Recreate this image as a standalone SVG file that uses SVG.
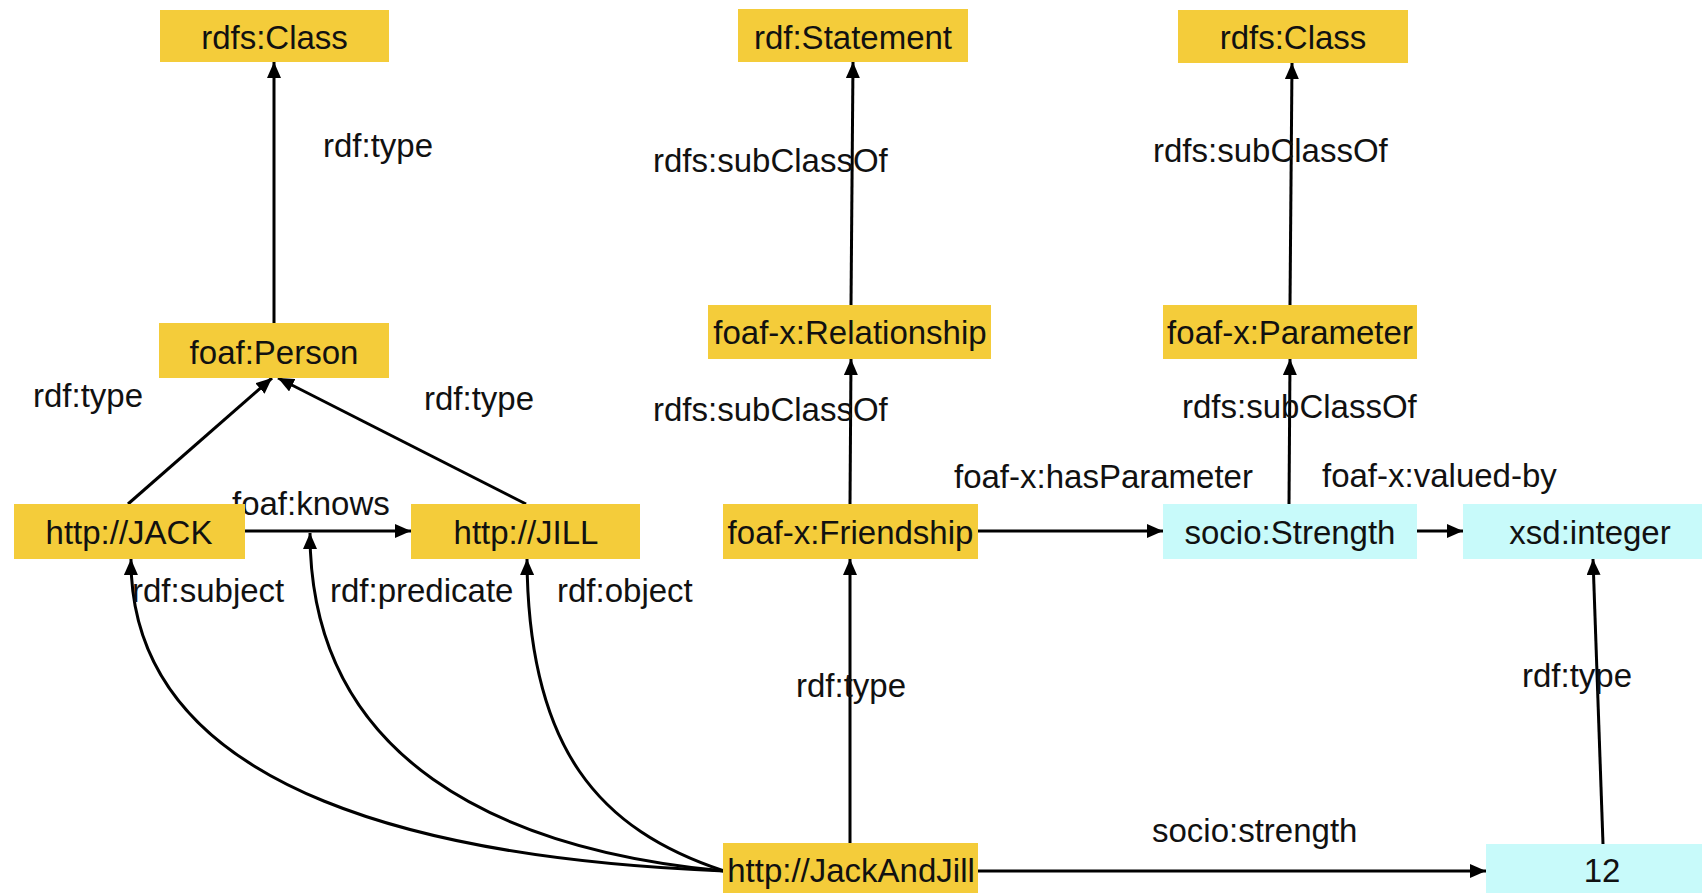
<svg xmlns="http://www.w3.org/2000/svg" width="1702" height="893" viewBox="0 0 1702 893">
  <defs>
    <marker id="arrow" markerUnits="userSpaceOnUse" markerWidth="17" markerHeight="14" refX="16" refY="7" orient="auto">
      <path d="M0,0 L16,7 L0,14 z" fill="#000"/>
    </marker>
    <style>
      .res rect { fill: #F4CC3A; }
      .lit rect { fill: #C8FAFA; }
      .node text { font-family: "Liberation Sans", Arial, sans-serif; font-size: 33px; fill: #111; text-anchor: middle; }
      .edge { stroke: #000; stroke-width: 3; fill: none; marker-end: url(#arrow); }
      .label { font-family: "Liberation Sans", Arial, sans-serif; font-size: 33px; fill: #111; }
    </style>
  </defs>
  <rect width="1702" height="893" fill="#fff"/>

  <!-- connectors -->
  <g id="edges">
    <line class="edge" x1="274" y1="323" x2="274" y2="62"/>
    <line class="edge" x1="128" y1="504" x2="272" y2="378"/>
    <line class="edge" x1="526" y1="504" x2="278" y2="378"/>
    <line class="edge" x1="245" y1="531" x2="411" y2="531"/>
    <line class="edge" x1="851" y1="305" x2="853" y2="62"/>
    <line class="edge" x1="850" y1="504" x2="851" y2="359"/>
    <line class="edge" x1="850" y1="843" x2="850" y2="559"/>
    <line class="edge" x1="978" y1="531" x2="1163" y2="531"/>
    <line class="edge" x1="1417" y1="531" x2="1463" y2="531"/>
    <line class="edge" x1="1289" y1="504" x2="1290" y2="359"/>
    <line class="edge" x1="1290" y1="305" x2="1292" y2="63"/>
    <line class="edge" x1="978" y1="871" x2="1486" y2="871"/>
    <line class="edge" x1="1603" y1="844" x2="1593" y2="559"/>
    <path class="edge" d="M724,871 C450,860 130,800 131,559"/>
    <path class="edge" d="M724,871 C500,850 310,760 310,533"/>
    <path class="edge" d="M724,871 C600,830 528,750 527,559"/>
  </g>

  <!-- edge labels -->
  <g id="edge-labels" class="label">
    <text x="323" y="157">rdf:type</text>
    <text x="33" y="407">rdf:type</text>
    <text x="424" y="410">rdf:type</text>
    <text x="232" y="515">foaf:knows</text>
    <text x="132" y="602">rdf:subject</text>
    <text x="330" y="602">rdf:predicate</text>
    <text x="557" y="602">rdf:object</text>
    <text x="653" y="172">rdfs:subClassOf</text>
    <text x="653" y="421">rdfs:subClassOf</text>
    <text x="1153" y="162">rdfs:subClassOf</text>
    <text x="1182" y="418">rdfs:subClassOf</text>
    <text x="954" y="488">foaf-x:hasParameter</text>
    <text x="1322" y="487">foaf-x:valued-by</text>
    <text x="796" y="697">rdf:type</text>
    <text x="1522" y="687">rdf:type</text>
    <text x="1152" y="842">socio:strength</text>
  </g>

  <!-- nodes -->
  <g id="rdfsClassLeft" class="node res"><rect x="160" y="10" width="229" height="52"/><text x="274.5" y="49">rdfs:Class</text></g>
  <g id="foafPerson" class="node res"><rect x="159" y="323" width="230" height="55"/><text x="274" y="364">foaf:Person</text></g>
  <g id="jack" class="node res"><rect x="14" y="504" width="231" height="55"/><text x="129" y="544">http://JACK</text></g>
  <g id="jill" class="node res"><rect x="411" y="504" width="229" height="55"/><text x="526" y="544">http://JILL</text></g>
  <g id="rdfStatement" class="node res"><rect x="738" y="9" width="230" height="53"/><text x="853" y="49">rdf:Statement</text></g>
  <g id="relationship" class="node res"><rect x="708" y="305" width="283" height="54"/><text x="850" y="344">foaf-x:Relationship</text></g>
  <g id="friendship" class="node res"><rect x="723" y="504" width="255" height="55"/><text x="850.5" y="544">foaf-x:Friendship</text></g>
  <g id="jackAndJill" class="node res"><rect x="723" y="843" width="255" height="50"/><text x="851" y="882">http://JackAndJill</text></g>
  <g id="rdfsClassRight" class="node res"><rect x="1178" y="10" width="230" height="53"/><text x="1293" y="49">rdfs:Class</text></g>
  <g id="parameter" class="node res"><rect x="1163" y="305" width="254" height="54"/><text x="1290" y="344">foaf-x:Parameter</text></g>
  <g id="strength" class="node lit"><rect x="1163" y="504" width="254" height="55"/><text x="1290" y="544">socio:Strength</text></g>
  <g id="xsdInteger" class="node lit"><rect x="1463" y="504" width="239" height="55"/><text x="1590" y="544">xsd:integer</text></g>
  <g id="twelve" class="node lit"><rect x="1486" y="844" width="216" height="49"/><text x="1602" y="882">12</text></g>
</svg>
